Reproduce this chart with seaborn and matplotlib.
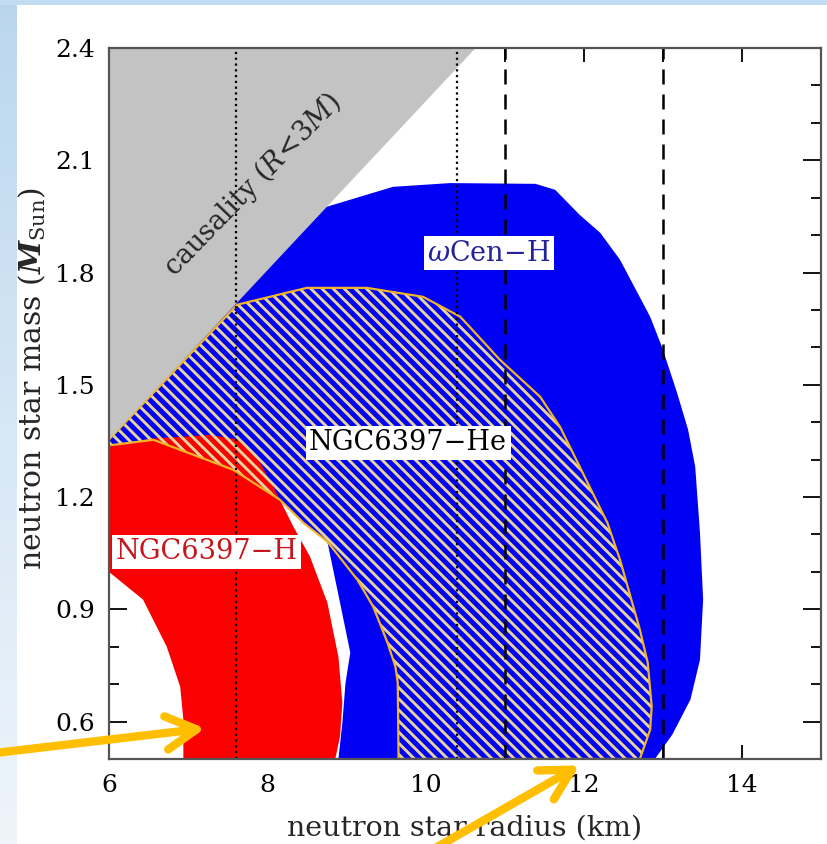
import matplotlib
matplotlib.use("Agg")
import numpy as np
import matplotlib.pyplot as plt
import seaborn as sns
from matplotlib.patches import FancyArrowPatch, Rectangle, ArrowStyle
from matplotlib.ticker import MultipleLocator

# ---------------------------------------------------------------- data
# causality limit R = 3GM/c^2, expressed in km per solar mass
KM_PER_MSUN_CAUSAL = 3 * 1.477

# omega Cen (H atmosphere) constraint region
omega_cen_radius = [6.00, 8.71, 9.59, 10.31, 11.39, 11.64, 11.95, 12.21, 12.46,
                    12.84, 12.99, 13.18, 13.32, 13.41, 13.47, 13.51, 13.47,
                    13.35, 13.12, 12.90, 8.90, 8.95, 8.99, 9.05, 8.92, 8.76,
                    8.90, 8.00, 6.00]
omega_cen_mass = [1.354, 1.973, 2.029, 2.039, 2.037, 2.021, 1.954, 1.906, 1.834,
                  1.682, 1.601, 1.479, 1.380, 1.281, 1.105, 0.926, 0.765,
                  0.659, 0.565, 0.500, 0.500, 0.597, 0.704, 0.784, 0.918, 1.081,
                  1.200, 1.400, 1.300]

# NGC 6397 (He atmosphere) constraint region
ngc_he_radius = [6.00, 7.62, 8.50, 9.26, 9.97, 10.44, 10.94, 11.45, 11.70,
                 11.95, 12.30, 12.46, 12.71, 12.81, 12.86, 12.84, 12.71,
                 9.66, 9.65, 9.62, 9.52, 9.34, 9.14, 8.76, 8.46, 8.16, 7.57,
                 6.56, 6.00]
ngc_he_mass = [1.354, 1.714, 1.759, 1.759, 1.735, 1.682, 1.567, 1.468, 1.388,
               1.281, 1.131, 1.032, 0.846, 0.757, 0.640, 0.578, 0.500,
               0.500, 0.704, 0.747, 0.811, 0.907, 0.979, 1.081, 1.131, 1.193,
               1.273, 1.353, 1.338]

# NGC 6397 (H atmosphere) constraint region
ngc_h_radius = [6.00, 6.52, 7.28, 7.66, 7.91, 8.13, 8.33, 8.54, 8.76, 8.90,
                8.95, 8.92, 8.86, 6.94, 6.94, 6.90, 6.73, 6.43, 6.00]
ngc_h_mass = [1.334, 1.356, 1.366, 1.353, 1.292, 1.206, 1.121, 1.041, 0.918,
              0.773, 0.650, 0.560, 0.500, 0.500, 0.605, 0.693, 0.800, 0.926,
              1.000]

dotted_radii = [7.6, 10.4]
dashed_radii = [11.0, 13.0]

x_ticks = [6, 8, 10, 12, 14]
y_ticks = [0.6, 0.9, 1.2, 1.5, 1.8, 2.1, 2.4]
x_limits = (6, 15)
y_limits = (0.5, 2.4)

# region labels: (text, radius, mass, text colour)
region_labels = [
    (r"$\omega$Cen$-$H", 10.80, 1.852, "#23239a"),
    ("NGC6397\u2212He", 9.78, 1.345, "black"),
    ("NGC6397\u2212H", 7.23, 1.054, "#c4161c"),
]

# ---------------------------------------------------------------- style
sns.set_theme(style="ticks")
plt.rcParams["font.family"] = ["DejaVu Serif"]
plt.rcParams["mathtext.fontset"] = "custom"
plt.rcParams["mathtext.rm"] = "DejaVu Serif"
plt.rcParams["mathtext.it"] = "DejaVu Serif:italic"
plt.rcParams["mathtext.bf"] = "DejaVu Serif:bold:italic"
plt.rcParams["hatch.linewidth"] = 2.1

BLUE = "#0000f5"
RED = "#fa0000"
GREY = "#c3c3c3"
HATCH = "#e4d39c"
GOLD = "#f0b428"
ARROW = "#ffbf00"

W, H = 827, 844
fig = plt.figure(figsize=(W / 100, H / 100), dpi=100)
fig.patch.set_facecolor("white")

# slide background: gradient strip on the left and thin band on top
bg = fig.add_axes([0, 0, 17 / W, 1], zorder=-5)
grad = np.linspace(0, 1, 256).reshape(-1, 1)
bg.imshow(grad, aspect="auto", cmap=matplotlib.colors.LinearSegmentedColormap.from_list(
    "slide", ["#bad6ee", "#d6e7f5", "#eef4fa"]), extent=[0, 1, 0, 1], origin="upper")
bg.set_axis_off()
fig.patches.append(Rectangle((0, 1 - 5 / H), 1, 5 / H, transform=fig.transFigure,
                             facecolor="#c2dcf1", edgecolor="none", zorder=-5))

ax = fig.add_axes([109 / W, 1 - 759 / H, (821 - 109) / W, (759 - 48) / H])
ax.set_facecolor("white")

# constraint regions
ax.fill(omega_cen_radius, omega_cen_mass, facecolor=BLUE, edgecolor="none", zorder=1)
ax.fill(ngc_he_radius, ngc_he_mass, facecolor=BLUE, edgecolor="none", zorder=2)
ax.fill(ngc_h_radius, ngc_h_mass, facecolor=RED, edgecolor="none", zorder=3)
ax.fill(ngc_he_radius, ngc_he_mass, facecolor="none", edgecolor=HATCH,
        hatch="\\\\\\", linewidth=0, zorder=4)
sns.lineplot(x=ngc_he_radius + ngc_he_radius[:1], y=ngc_he_mass + ngc_he_mass[:1],
             sort=False, estimator=None, color=GOLD, linewidth=1.6, ax=ax, zorder=5)

# causality excluded region
r_causal = np.array([x_limits[0], y_limits[1] * KM_PER_MSUN_CAUSAL])
ax.fill_between(r_causal, r_causal / KM_PER_MSUN_CAUSAL, y_limits[1],
                facecolor=GREY, edgecolor="none", zorder=6)
ax.text(7.82, 2.035, r"causality ($R\!<\!3M$)", rotation=46, fontsize=19.5,
        ha="center", va="center", rotation_mode="anchor", zorder=8)

# reference radii
for r in dotted_radii:
    ax.axvline(r, color="black", linestyle=(0, (1, 1.6)), linewidth=1.6, zorder=7)
for r in dashed_radii:
    ax.axvline(r, color="black", linestyle=(0, (6, 4)), linewidth=1.8, zorder=7)

for text, r, m, col in region_labels:
    ax.text(r, m, text, color=col, fontsize=19.5, ha="center", va="center", zorder=9,
            bbox=dict(facecolor="white", edgecolor="none", pad=2.5))

# axes
ax.set_xlim(*x_limits)
ax.set_ylim(*y_limits)
ax.set_xticks(x_ticks)
ax.set_yticks(y_ticks)
ax.xaxis.set_minor_locator(MultipleLocator(1))
ax.yaxis.set_minor_locator(MultipleLocator(0.1))
ax.set_xticklabels([f"{v:d}" for v in x_ticks])
ax.set_yticklabels([f"{v:.1f}" for v in y_ticks])
ax.tick_params(which="both", direction="in", top=True, right=True,
               labelsize=18, colors="black", width=1.3)
ax.tick_params(axis="x", which="major", length=10, pad=11)
ax.tick_params(axis="x", which="minor", length=10)
ax.tick_params(axis="y", which="major", length=13, pad=10)
ax.tick_params(axis="y", which="minor", length=7)
for sp in ax.spines.values():
    sp.set_color("#555555")
    sp.set_linewidth(1.6)
    sp.set_zorder(10)

ax.set_xlabel("neutron star radius (km)", fontsize=20.5)
ax.set_ylabel(r"neutron star mass ($\mathbf{M}_{\rm Sun}$)", fontsize=21.5)
ax.xaxis.set_label_coords(0.5, -0.078)
ax.yaxis.set_label_coords(-0.085, 0.535)


# highlight arrows (figure pixel coordinates)
def fig_arrow(x0, y0, x1, y1):
    style = ArrowStyle("->", head_length=22, head_width=12)
    arr = FancyArrowPatch((x0 / W, 1 - y0 / H), (x1 / W, 1 - y1 / H),
                          transform=fig.transFigure, arrowstyle=style,
                          color=ARROW, linewidth=6, capstyle="round",
                          joinstyle="round", mutation_scale=1, zorder=20)
    fig.patches.append(arr)


fig_arrow(-5, 753, 208, 728)
fig_arrow(432, 850, 582, 764)

fig.savefig("out.png", dpi=100)
